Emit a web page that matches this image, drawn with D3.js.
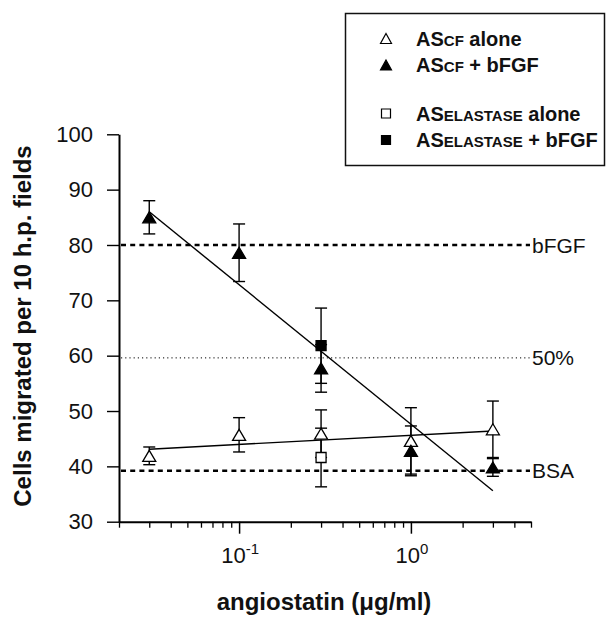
<!DOCTYPE html>
<html>
<head>
<meta charset="utf-8">
<script src="https://cdn.jsdelivr.net/npm/d3@7"></script>
<style>
  html, body { margin: 0; padding: 0; background: #fff; }
  svg { display: block; font-family: "Liberation Sans", Arial, sans-serif; }
  .axis path, .axis line { stroke: #000; }
  .axis text { font-size: 22px; fill: #111; }
</style>
</head>
<body>
<svg id="chart" width="609" height="617"></svg>
<script>
// doses in ug/ml
const doses = [0.03, 0.1, 0.3, 1, 3];

// AS(CF) alone, open triangles
const cfAlone = [41.9, 45.7, 45.9, 44.6, 46.7];
const cfAloneErr = [1.6, 3.1, 4.3, 6.0, 5.1];

// AS(CF) + bFGF, filled triangles
const cfBfgf = [85.0, 78.6, 57.7, 42.8, 39.8];
const cfBfgfErr = [3.0, 5.2, 4.3, 4.5, 1.6];

// AS(elastase), only tested at 0.3
const elaDoses = [0.3];
const elaAlone = [41.6];
const elaAloneErr = [5.3];
const elaBfgf = [61.8];
const elaBfgfErr = [6.8];

// fitted lines, end points
const fitDoses = [0.03, 3];
const fitAlone = [43.1, 46.4];
const fitBfgf = [86.0, 35.6];

// reference levels
const refLabels = ["bFGF", "50%", "BSA"];
const refValues = [80, 59.6, 39.2];

const yTicks = [30, 40, 50, 60, 70, 80, 90, 100];
const xMajor = [0.1, 1];
const xMinor = [0.02, 0.03, 0.04, 0.05, 0.06, 0.07, 0.08, 0.09,
  0.2, 0.3, 0.4, 0.5, 0.6, 0.7, 0.8, 0.9, 2, 3, 4, 5];
const xMajorExp = ["-1", "0"];

const svg = d3.select("#chart");

const x = d3.scaleLog().domain([0.02, 5]).range([119, 531]);
const y = d3.scaleLinear().domain([30, 100]).range([521.7, 134.3]);

// reference lines
refValues.forEach((v, i) => {
  const dotted = refLabels[i] === "50%";
  svg.append("line")
    .attr("x1", x(0.02) + 2)
    .attr("x2", 530)
    .attr("y1", y(v))
    .attr("y2", y(v))
    .attr("stroke", "#000")
    .attr("stroke-width", dotted ? 1 : 2.6)
    .attr("stroke-dasharray", dotted ? "1.2,3" : "5,4.2");

  svg.append("text")
    .attr("x", 532)
    .attr("y", y(v))
    .attr("dy", "0.36em")
    .attr("font-size", 21)
    .attr("fill", "#111")
    .text(refLabels[i]);
});

// axes
const yAxis = svg.append("g")
  .attr("class", "axis")
  .attr("transform", `translate(${x(0.02)},0)`)
  .call(d3.axisLeft(y).tickValues(yTicks).tickSize(12).tickSizeOuter(0).tickPadding(14));
yAxis.select(".domain").attr("stroke-width", 2);
yAxis.selectAll(".tick line").attr("stroke-width", 1.4);

const xMinorAxis = svg.append("g")
  .attr("class", "axis")
  .attr("transform", `translate(0,${y(30)})`)
  .call(d3.axisBottom(x).tickValues(xMinor).tickSize(6).tickSizeOuter(0).tickFormat(""));
xMinorAxis.select(".domain").attr("stroke-width", 2);
xMinorAxis.selectAll(".tick line").attr("stroke-width", 1.3);

const xMajorAxis = svg.append("g")
  .attr("class", "axis")
  .attr("transform", `translate(0,${y(30)})`)
  .call(d3.axisBottom(x).tickValues(xMajor).tickSize(12).tickSizeOuter(0).tickFormat(""));
xMajorAxis.select(".domain").remove();
xMajorAxis.selectAll(".tick line").attr("stroke-width", 1.5);

xMajor.forEach((v, i) => {
  const t = svg.append("text")
    .attr("x", x(v) + 1)
    .attr("y", 563)
    .attr("text-anchor", "middle")
    .attr("font-size", 22)
    .attr("fill", "#111");
  t.append("tspan").text("10");
  t.append("tspan").attr("dy", -9).attr("font-size", 15).text(xMajorExp[i]);
});

// axis titles
svg.append("text")
  .attr("x", 324)
  .attr("y", 610)
  .attr("text-anchor", "middle")
  .attr("font-size", 24)
  .attr("font-weight", "bold")
  .attr("fill", "#111")
  .text("angiostatin (\u03bcg/ml)");

svg.append("text")
  .attr("transform", "translate(31,326) rotate(-90)")
  .attr("text-anchor", "middle")
  .attr("font-size", 24)
  .attr("font-weight", "bold")
  .attr("fill", "#111")
  .text("Cells migrated per 10 h.p. fields");

// fitted lines
const line = d3.line().x((d) => x(d[0])).y((d) => y(d[1]));
[fitAlone, fitBfgf].forEach((vals) => {
  svg.append("path")
    .attr("d", line(fitDoses.map((d, i) => [d, vals[i]])))
    .attr("fill", "none")
    .attr("stroke", "#000")
    .attr("stroke-width", 1.4);
});

function triPath(w, h) {
  return `M0,${-h / 2} L${w / 2},${h / 2} L${-w / 2},${h / 2} Z`;
}
function sqPath(s) {
  return `M${-s / 2},${-s / 2} h${s} v${s} h${-s} Z`;
}

const series = [
  { xs: elaDoses, ys: elaAlone, err: elaAloneErr, shape: "sq", filled: false },
  { xs: doses, ys: cfAlone, err: cfAloneErr, shape: "tri", filled: false },
  { xs: elaDoses, ys: elaBfgf, err: elaBfgfErr, shape: "sq", filled: true },
  { xs: doses, ys: cfBfgf, err: cfBfgfErr, shape: "tri", filled: true },
];

const barLayer = svg.append("g");
const markLayer = svg.append("g");

series.forEach((s) => {
  const pts = s.xs.map((d, i) => ({ d, v: s.ys[i], e: s.err[i] }));

  const bars = barLayer.selectAll(null)
    .data(pts)
    .join("g")
    .attr("stroke", "#000")
    .attr("stroke-width", 1.4);
  bars.append("line")
    .attr("x1", (p) => x(p.d)).attr("x2", (p) => x(p.d))
    .attr("y1", (p) => y(p.v - p.e)).attr("y2", (p) => y(p.v + p.e));
  bars.append("line")
    .attr("x1", (p) => x(p.d) - 6).attr("x2", (p) => x(p.d) + 6)
    .attr("y1", (p) => y(p.v + p.e)).attr("y2", (p) => y(p.v + p.e));
  bars.append("line")
    .attr("x1", (p) => x(p.d) - 6).attr("x2", (p) => x(p.d) + 6)
    .attr("y1", (p) => y(p.v - p.e)).attr("y2", (p) => y(p.v - p.e));

  markLayer.selectAll(null)
    .data(pts)
    .join("path")
    .attr("transform", (p) => `translate(${x(p.d)},${y(p.v)})`)
    .attr("d", s.shape === "tri" ? triPath(13, 11) : sqPath(10))
    .attr("fill", s.filled ? "#000" : "#fff")
    .attr("stroke", "#000")
    .attr("stroke-width", 1.3);
});

// legend
const legendLabels = [
  ["AS", "CF", " alone"],
  ["AS", "CF", " + bFGF"],
  ["AS", "ELASTASE", " alone"],
  ["AS", "ELASTASE", " + bFGF"],
];
const legendShapes = ["tri", "tri", "sq", "sq"];
const legendFilled = [false, true, false, true];
const legendRows = [38.5, 65, 113.5, 140];

const legend = svg.append("g");
legend.append("rect")
  .attr("x", 345.5).attr("y", 13.5)
  .attr("width", 259).attr("height", 152)
  .attr("fill", "#fff")
  .attr("stroke", "#111")
  .attr("stroke-width", 1.5);

legendLabels.forEach((parts, i) => {
  const cy = legendRows[i];
  legend.append("path")
    .attr("transform", `translate(386,${cy})`)
    .attr("d", legendShapes[i] === "tri" ? triPath(11, 10) : sqPath(9))
    .attr("fill", legendFilled[i] ? "#000" : "#fff")
    .attr("stroke", "#000")
    .attr("stroke-width", 1.2);

  const t = legend.append("text")
    .attr("x", 416)
    .attr("y", cy + 7)
    .attr("font-size", 20)
    .attr("font-weight", "bold")
    .attr("fill", "#111");
  t.append("tspan").text(parts[0]);
  t.append("tspan").attr("font-size", 15).text(parts[1]);
  t.append("tspan").text(parts[2]);
});
</script>
</body>
</html>
